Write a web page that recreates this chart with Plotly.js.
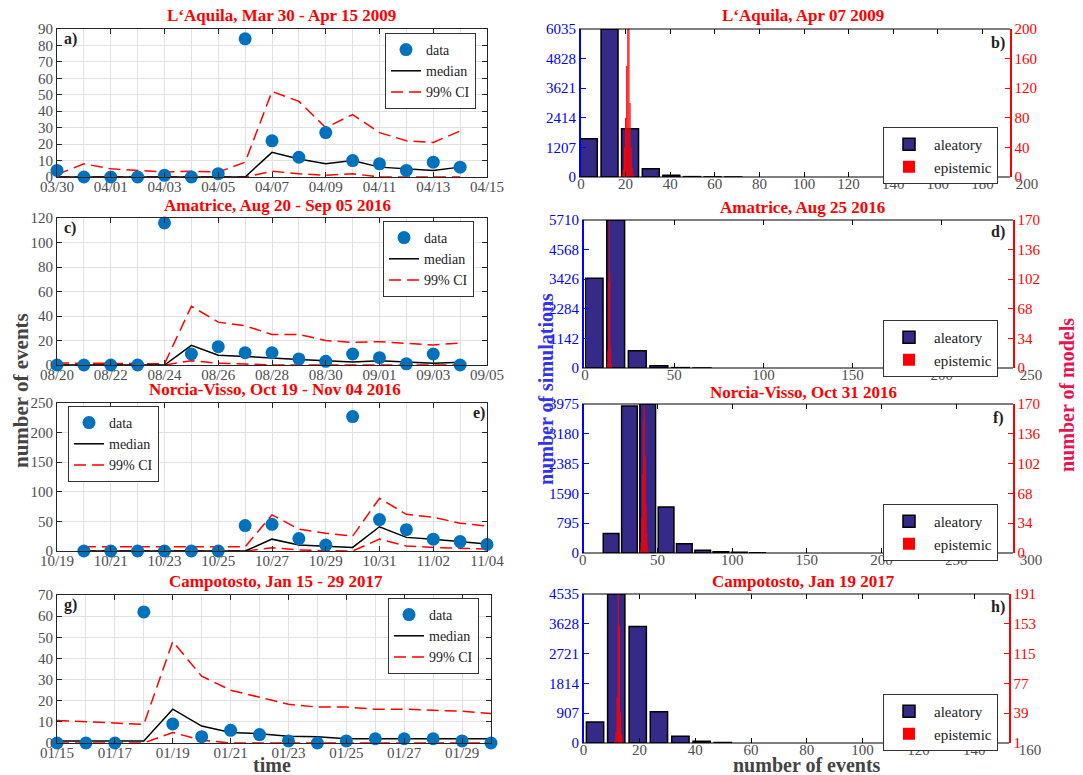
<!DOCTYPE html>
<html>
<head>
<meta charset="utf-8">
<script src="https://cdn.plot.ly/plotly-3.0.1.min.js"></script>
<style>html,body{margin:0;padding:0;background:#fff;}#chart{width:1083px;height:775px;}</style>
</head>
<body>
<div id="chart"></div>
<script>
// ---------------- DATA ----------------
// L'Aquila
const aqDates  = ['2009-03-30','2009-03-31','2009-04-01','2009-04-02','2009-04-03','2009-04-04','2009-04-05','2009-04-06','2009-04-07','2009-04-08','2009-04-09','2009-04-10','2009-04-11','2009-04-12','2009-04-13','2009-04-14'];
const aqData   = [4,0,0,0,1,0,2,84,22,12,27,10,8,4,9,6];
const aqMedian = [0,0,0,0,0,0,0,0,15,11,8,10,6,5,4,6];
const aqUpper  = [1.5,8,5,4,3,3.5,3,9,52,46,30,38,27,22,21,28];
const aqLower  = [0,0,0,0,0,0,0,0,3.5,2,1,2,0,0,0,0];
// Amatrice
const amDates  = ['2016-08-20','2016-08-21','2016-08-22','2016-08-23','2016-08-24','2016-08-25','2016-08-26','2016-08-27','2016-08-28','2016-08-29','2016-08-30','2016-08-31','2016-09-01','2016-09-02','2016-09-03','2016-09-04'];
const amData   = [0,0,0,0,116,9,15,10,10,5,3,9,6,1,9,0];
const amMedian = [0,0,0,0,0,16,8,7,5.5,4.5,3.5,2.5,3.5,2.5,1.5,2.2];
const amUpper  = [1.6,1.6,1.6,1.6,1,48,35,32,25,25,20,18.5,19,17.7,16.3,18];
const amLower  = [0,0,0,0,0,3.5,1.4,0.8,0,0,0,0,0,0,0,0];
// Norcia-Visso
const nvDates  = ['2016-10-20','2016-10-21','2016-10-22','2016-10-23','2016-10-24','2016-10-25','2016-10-26','2016-10-27','2016-10-28','2016-10-29','2016-10-30','2016-10-31','2016-11-01','2016-11-02','2016-11-03','2016-11-04'];
const nvData   = [0,0,0,0,0,0,43,45,21,10,227,53,36,20,16,11];
const nvMedian = [0,0,0,0,0,0,0,20,10,8,6,41,23,20,16,12];
const nvUpper  = [7,7,7,7,7,7,7,61,37,30,25,89,62,57,47,42];
const nvLower  = [0,0,0,0,0,0,0,5.6,1.7,0.6,0,20,8.5,6,4.5,3.4];
// Campotosto
const cpDates  = ['2017-01-15','2017-01-16','2017-01-17','2017-01-18','2017-01-19','2017-01-20','2017-01-21','2017-01-22','2017-01-23','2017-01-24','2017-01-25','2017-01-26','2017-01-27','2017-01-28','2017-01-29','2017-01-30'];
const cpData   = [0,0,0,62,9,3,6,4,1,0,1,2,2,2,1,0];
const cpMedian = [1,1,1,1,16,8,5,4.4,3.2,3,2,2,2,2,2,2];
const cpUpper  = [10.7,10,9.2,8.8,48,31.6,25,21.8,18.3,17,17,16,16,15.5,15,14];
const cpLower  = [0,0,0,0,5,1.3,0,0,0,0,0,0,0,0,0,0];

// Histograms (aleatory = number of simulations, epistemic = number of models)
const bBins = [3.5,12.8,22,31.3,40.5,49.8,59,68.3];
const bCounts = [1560,6035,1966,339,68,15,5,2];
const bEpiX = [18.5,19,19.5,20,20.5,21,21.5,22,22.5,23,23.5];
const bEpiY = [3,10,40,80,150,200,200,100,40,12,3];
const bLeftTicks = [0,1207,2414,3621,4828,6035];
const bRightTicks = [0,40,80,120,160,200];

const dBins = [5.1,17.2,29.3,41.4,53.5,65.6];
const dCounts = [3464,5710,667,90,15,3];
const dEpiX = [12.4,12.8,13.2,13.6,14.0,14.4,14.8];
const dEpiY = [4,20,100,170,110,25,5];
const dLeftTicks = [0,1142,2284,3426,4568,5710];
const dRightTicks = [0,34,68,102,136,170];

const fBins = [19,31.3,43.5,55.8,68,80.3,92.5,104.8,117];
const fCounts = [517,3922,3975,1230,250,71,36,18,5];
const fEpiX = [38.5,39,39.5,40,40.5,41,41.5,42,42.5,43,43.5,44];
const fEpiY = [3,12,40,90,150,170,165,110,55,22,8,2];
const fLeftTicks = [0,795,1590,2385,3180,3975];
const fRightTicks = [0,34,68,102,136,170];

const hBins = [4.1,11.7,19.4,27,34.7,42.3,49.9];
const hCounts = [642,4535,3547,948,204,51,15];
const hEpiX = [11.2,11.6,12,12.4,12.8,13.2,13.6,14];
const hEpiY = [4,15,60,191,150,40,12,3];
const hLeftTicks = [0,907,1814,2721,3628,4535];
const hRightTicks = [1,39,77,115,153,191];

// ---------------- STYLE / LAYOUT HELPERS ----------------
const W = 1083, H = 775;
const X = p => p / W;
const Y = p => 1 - p / H;
const FONT = '"Liberation Serif", "Times New Roman", serif';
const DAY = 86400000;
const AX = '#262626';
const TICKGRAY = '#4d4d4d';
const DATA_BLUE = 'rgb(0,114,189)';
const ALEA = 'rgb(53,42,135)';
const STANDOFF = -4;

const traces = [];
const layout = {
  width: W, height: H,
  margin: {l: 0, r: 0, t: 0, b: 0},
  paper_bgcolor: '#fff', plot_bgcolor: '#fff',
  showlegend: true, barmode: 'overlay',
  font: {family: FONT, color: '#222'},
  annotations: [], shapes: []
};

function tsPanel(n, dates, data, med, up, lo, xr, yMax, dy, box, leg) {
  const xa = n === 1 ? 'xaxis' : 'xaxis' + n, ya = n === 1 ? 'yaxis' : 'yaxis' + n;
  const xr_ = n === 1 ? 'x' : 'x' + n, yr_ = n === 1 ? 'y' : 'y' + n;
  const lg = n === 1 ? 'legend' : 'legend' + n;
  layout[xa] = {
    domain: [X(box[0]), X(box[1])], anchor: yr_, type: 'date', range: xr, tick0: xr[0], dtick: 2 * DAY,
    tickformat: '%m/%d', ticks: 'inside', ticklen: 5, tickcolor: AX, showline: true, linecolor: AX, linewidth: 1,
    mirror: 'ticks', showgrid: true, gridcolor: '#e1e1e1', zeroline: false, ticklabelstandoff: STANDOFF,
    minor: {dtick: DAY, showgrid: true, gridcolor: '#e1e1e1', ticks: ''},
    tickfont: {family: FONT, size: 15, color: TICKGRAY}
  };
  layout[ya] = {
    domain: [Y(box[3]), Y(box[2])], anchor: xr_, range: [0, yMax], dtick: dy,
    ticks: 'inside', ticklen: 5, tickcolor: AX, showline: true, linecolor: AX, linewidth: 1, mirror: 'ticks',
    showgrid: true, gridcolor: '#e1e1e1', zeroline: false,
    tickfont: {family: FONT, size: 15, color: TICKGRAY}
  };
  layout[lg] = Object.assign({
    bgcolor: '#fff', bordercolor: '#333', borderwidth: 1,
    font: {family: FONT, size: 14, color: '#222'}, tracegroupgap: 0, itemwidth: 30
  }, leg);
  const ci = {color: 'red', width: 1.5, dash: '12px,6px'};
  traces.push({type: 'scatter', mode: 'lines', x: dates, y: up, xaxis: xr_, yaxis: yr_, line: ci,
    name: '99% CI', legend: lg, legendrank: 3, cliponaxis: false, hoverinfo: 'skip'});
  traces.push({type: 'scatter', mode: 'lines', x: dates, y: lo, xaxis: xr_, yaxis: yr_, line: ci,
    name: '99% CI', legend: lg, showlegend: false, cliponaxis: false, hoverinfo: 'skip'});
  traces.push({type: 'scatter', mode: 'lines', x: dates, y: med, xaxis: xr_, yaxis: yr_,
    line: {color: '#000', width: 1.5}, name: 'median', legend: lg, legendrank: 2, cliponaxis: false});
  traces.push({type: 'scatter', mode: 'markers', x: dates, y: data, xaxis: xr_, yaxis: yr_,
    marker: {color: DATA_BLUE, size: 13}, name: 'data', legend: lg, legendrank: 1, cliponaxis: false});
}

function histPanel(n, rn, bins, counts, bw, epiX, epiY, ew, xMax, dx, leftTicks, rightTicks, frame, xdom, leg) {
  const xa = 'xaxis' + n, ya = 'yaxis' + n, yb = 'yaxis' + rn;
  const lg = 'legend' + n;
  layout[xa] = {
    domain: [X(xdom[0]), X(xdom[1])], anchor: 'y' + n, range: [0, xMax], dtick: dx,
    ticks: 'inside', ticklen: 5, tickcolor: '#000', showline: false, mirror: 'ticks', ticklabelstandoff: STANDOFF,
    showgrid: false, zeroline: false, tickfont: {family: FONT, size: 15, color: TICKGRAY}
  };
  layout[ya] = {
    domain: [Y(frame[3]), Y(frame[2])], anchor: 'free', position: X(frame[0]), side: 'left',
    range: [0, leftTicks[leftTicks.length - 1]], tickvals: leftTicks, ticktext: leftTicks.map(String),
    ticks: 'inside', ticklen: 5, tickcolor: 'blue', showline: true, linecolor: 'blue', linewidth: 1.5,
    showgrid: false, zeroline: false, tickfont: {family: FONT, size: 15, color: 'blue'}
  };
  layout[yb] = {
    overlaying: 'y' + n, side: 'right', anchor: 'free', position: X(frame[1]),
    range: [rightTicks[0], rightTicks[rightTicks.length - 1]], tickvals: rightTicks, ticktext: rightTicks.map(String),
    ticks: 'inside', ticklen: 5, tickcolor: 'red', showline: true, linecolor: 'red', linewidth: 1.5,
    showgrid: false, zeroline: false, tickfont: {family: FONT, size: 15, color: 'red'}
  };
  layout[lg] = Object.assign({
    bgcolor: '#fff', bordercolor: '#333', borderwidth: 1,
    font: {family: FONT, size: 15, color: '#222'}, tracegroupgap: 0, itemwidth: 40
  }, leg);
  traces.push({type: 'bar', x: bins, y: counts, width: bw, xaxis: 'x' + n, yaxis: 'y' + n,
    marker: {color: ALEA, line: {color: '#000', width: 1.5}}, name: 'aleatory', legend: lg});
  traces.push({type: 'bar', x: epiX, y: epiY, width: ew, xaxis: 'x' + n, yaxis: 'y' + rn,
    marker: {color: 'red', line: {width: 0}}, name: 'epistemic', legend: lg});
  // top & bottom frame lines
  [frame[2], frame[3]].forEach(py => layout.shapes.push({type: 'line', xref: 'paper', yref: 'paper',
    x0: X(frame[0]), x1: X(frame[1]), y0: Y(py), y1: Y(py), line: {color: '#000', width: 1.2}}));
}

// ---------------- PANELS ----------------
tsPanel(1, aqDates, aqData, aqMedian, aqUpper, aqLower, ['2009-03-30', '2009-04-15'], 90, 10, [57, 487, 29, 177],
  {x: X(476), xanchor: 'right', y: Y(33), yanchor: 'top'});
tsPanel(3, amDates, amData, amMedian, amUpper, amLower, ['2016-08-20', '2016-09-05'], 120, 20, [57, 487, 218, 365],
  {x: X(474), xanchor: 'right', y: Y(221), yanchor: 'top'});
tsPanel(5, nvDates, nvData, nvMedian, nvUpper, nvLower, ['2016-10-19', '2016-11-04'], 250, 50, [57, 487, 403, 551],
  {x: X(68), xanchor: 'left', y: Y(406), yanchor: 'top'});
tsPanel(7, cpDates, cpData, cpMedian, cpUpper, cpLower, ['2017-01-15', '2017-01-30'], 70, 10, [57, 491, 595, 743],
  {x: X(479), xanchor: 'right', y: Y(598), yanchor: 'top'});

histPanel(2, 9, bBins, bCounts, 7.6, bEpiX, bEpiY, 0.5, 200, 20, bLeftTicks, bRightTicks, [579, 1010, 29, 177], [581, 1027],
  {x: X(998), xanchor: 'right', y: Y(127), yanchor: 'top'});
histPanel(4, 10, dBins, dCounts, 10, dEpiX, dEpiY, 0.4, 250, 50, dLeftTicks, dRightTicks, [582, 1013, 220, 368], [585, 1031],
  {x: X(998), xanchor: 'right', y: Y(320), yanchor: 'top'});
histPanel(6, 11, fBins, fCounts, 10.5, fEpiX, fEpiY, 0.5, 300, 50, fLeftTicks, fRightTicks, [582, 1013, 404, 553], [582.7, 1031],
  {x: X(998), xanchor: 'right', y: Y(504), yanchor: 'top'});
histPanel(8, 12, hBins, hCounts, 6.2, hEpiX, hEpiY, 0.4, 160, 20, hLeftTicks, hRightTicks, [582, 1009, 594, 743], [583.6, 1030],
  {x: X(998), xanchor: 'right', y: Y(694), yanchor: 'top'});

// ---------------- TEXT ----------------
function ann(text, px, py, opts) {
  layout.annotations.push(Object.assign({text: text, xref: 'paper', yref: 'paper', x: X(px), y: Y(py),
    showarrow: false, xanchor: 'center', yanchor: 'middle'}, opts));
}
const titleFont = {family: FONT, size: 17, color: 'red'};
ann('<b>L‘Aquila, Mar 30 - Apr 15 2009</b>', 281, 16, {font: titleFont});
ann('<b>L‘Aquila, Apr 07 2009</b>', 803, 16, {font: titleFont});
ann('<b>Amatrice, Aug 20 - Sep 05 2016</b>', 277, 205, {font: titleFont});
ann('<b>Amatrice, Aug 25 2016</b>', 802, 207, {font: titleFont});
ann('<b>Norcia-Visso, Oct 19 - Nov 04 2016</b>', 275, 390, {font: titleFont});
ann('<b>Norcia-Visso, Oct 31 2016</b>', 803, 392, {font: titleFont});
ann('<b>Campotosto, Jan 15 - 29 2017</b>', 276, 581, {font: titleFont});
ann('<b>Campotosto, Jan 19 2017</b>', 803, 581, {font: titleFont});

const letFont = {family: FONT, size: 16, color: '#222'};
ann('<b>a)</b>', 70, 39, {font: letFont});
ann('<b>b)</b>', 998, 43, {font: letFont});
ann('<b>c)</b>', 70, 228, {font: letFont});
ann('<b>d)</b>', 998, 232, {font: letFont});
ann('<b>e)</b>', 479, 413, {font: letFont});
ann('<b>f)</b>', 998, 418, {font: letFont});
ann('<b>g)</b>', 70, 605, {font: letFont});
ann('<b>h)</b>', 998, 607, {font: letFont});

ann('<b>number of events</b>', 21, 391, {textangle: -90, font: {family: FONT, size: 21, color: '#444'}});
ann('<b>time</b>', 272, 765, {font: {family: FONT, size: 20, color: '#444'}});
ann('<b>number of events</b>', 807, 765, {font: {family: FONT, size: 20, color: '#444'}});
ann('<b>number of simulations</b>', 546, 389, {textangle: -90, font: {family: FONT, size: 20, color: 'rgb(50,50,235)'}});
ann('<b>number of models</b>', 1067, 395, {textangle: -90, font: {family: FONT, size: 20, color: 'rgb(232,18,80)'}});

Plotly.newPlot('chart', traces, layout, {displayModeBar: false, staticPlot: true});
</script>
</body>
</html>
